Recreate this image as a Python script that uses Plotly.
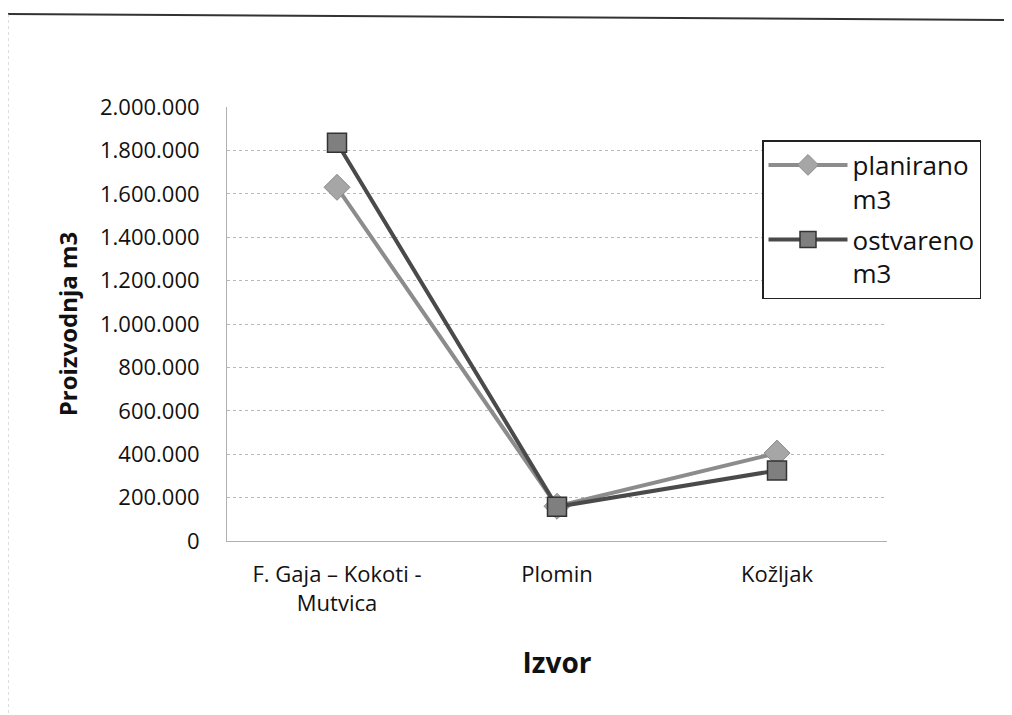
import plotly.graph_objects as go

categories = ["F. Gaja – Kokoti -<br>Mutvica", "Plomin", "Kožljak"]
planirano = [1630000, 160000, 405000]
ostvareno = [1835000, 158000, 325000]
series_names = ["planirano<br>m3", "ostvareno<br>m3"]
tick_vals = [0, 200000, 400000, 600000, 800000, 1000000, 1200000, 1400000, 1600000, 1800000, 2000000]

FONT = "Open Sans"

fig = go.Figure()
fig.add_trace(go.Scatter(
    x=categories, y=planirano, name=series_names[0], mode="lines+markers",
    legendgroup="a",
    line=dict(color="#8c8c8c", width=4),
    marker=dict(symbol="diamond", size=20, color="#a6a6a6", line=dict(color="#8a8a8a", width=1)),
))
fig.add_trace(go.Scatter(
    x=categories, y=ostvareno, name=series_names[1], mode="lines+markers",
    legendgroup="b",
    line=dict(color="#4a4a4a", width=4),
    marker=dict(symbol="square", size=19, color="#7f7f7f", line=dict(color="#333333", width=1.5)),
))

# page body has an 8px margin, so the figure is offset by 8px; margins compensate
fig.update_layout(
    width=1012, height=715,
    margin=dict(l=219, r=133, t=99, b=182, autoexpand=False),
    paper_bgcolor="white", plot_bgcolor="white",
    separators=",.",
    font=dict(family=FONT, size=22, color="#111111"),
    showlegend=True,
    legend=dict(
        x=(762 - 227) / 660, y=(541 - 140) / 434, xanchor="left", yanchor="top",
        bordercolor="#222222", borderwidth=1.5, bgcolor="white",
        font=dict(family=FONT, size=26, color="#111111"),
        itemwidth=79, tracegroupgap=4, valign="top",
        entrywidth=236, entrywidthmode="pixels",
    ),
    xaxis=dict(
        range=[-0.5, 2.5], automargin=False,
        showgrid=False, showline=True, linecolor="#b0b0b0", linewidth=1,
        ticks="", ticklabelstandoff=14, tickfont=dict(family=FONT, size=22),
        title=dict(text="<b>Izvor</b>", font=dict(family=FONT, size=28), standoff=37),
        fixedrange=True,
    ),
    yaxis=dict(
        range=[0, 2000000], tickvals=tick_vals, tickformat=",d", automargin=False,
        showgrid=True, gridcolor="#b8b8b8", gridwidth=1, griddash="dot",
        showline=True, linecolor="#b0b0b0", linewidth=1, zeroline=False,
        ticks="", ticklabelstandoff=22, tickfont=dict(family=FONT, size=22),
        title=dict(text="<b>Proizvodnja m3</b>", font=dict(family=FONT, size=24)),
    ),
)

# outer chart border (scan frame)
fig.add_shape(type="line", xref="paper", yref="paper",
              x0=-219/660, x1=785/660, y0=(541-14)/434, y1=(541-20)/434,
              line=dict(color="#333333", width=2))
fig.add_shape(type="line", xref="paper", yref="paper",
              x0=-219/660, x1=-219/660, y0=(541-14)/434, y1=(541-715)/434,
              line=dict(color="#bbbbbb", width=1, dash="dot"))

fig.write_html("out.html")
